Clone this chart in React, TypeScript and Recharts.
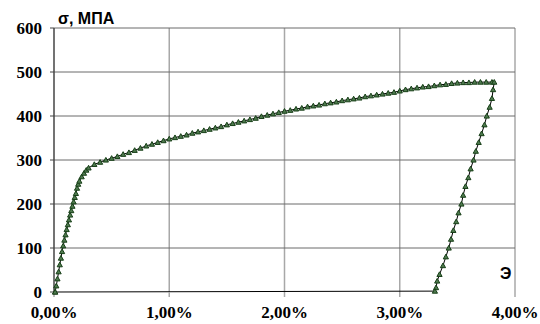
import { LineChart, Line, XAxis, YAxis, CartesianGrid } from 'recharts';

// деформация, %
const strain = [
    0.01, 0.02, 0.03, 0.04, 0.05, 0.06, 0.07, 0.08, 0.09, 0.10,
    0.11, 0.12, 0.13, 0.14, 0.15, 0.16, 0.17, 0.18, 0.19, 0.20,
    0.21, 0.22, 0.24, 0.26, 0.28, 0.30, 0.35, 0.40, 0.45, 0.50,
    0.55, 0.60, 0.65, 0.70, 0.75, 0.80, 0.85, 0.90, 0.95, 1.00,
    1.05, 1.10, 1.15, 1.20, 1.25, 1.30, 1.35, 1.40, 1.45, 1.50,
    1.55, 1.60, 1.65, 1.70, 1.75, 1.80, 1.85, 1.90, 1.95, 2.00,
    2.05, 2.10, 2.15, 2.20, 2.25, 2.30, 2.35, 2.40, 2.45, 2.50,
    2.55, 2.60, 2.65, 2.70, 2.75, 2.80, 2.85, 2.90, 2.95, 3.00,
    3.05, 3.10, 3.15, 3.20, 3.25, 3.30, 3.35, 3.40, 3.45, 3.50,
    3.55, 3.60, 3.65, 3.70, 3.75, 3.80, 3.82,
    3.81, 3.80, 3.78, 3.755, 3.735, 3.71, 3.685, 3.66, 3.64, 3.615,
    3.595, 3.57, 3.55, 3.535, 3.51, 3.49, 3.465, 3.445, 3.425, 3.40,
    3.375, 3.345, 3.325, 3.315, 3.305,
    0.01,
];

// напряжение, МПа
const stress = [
    0, 14, 30, 46, 62, 77, 92, 105, 118, 130,
    142, 153, 164, 175, 185, 195, 205, 215, 224, 236,
    245, 252, 262, 270, 277, 282, 290, 295, 300, 304,
    308, 313, 317, 322, 327, 332, 336, 340, 344, 348,
    351, 354, 357, 361, 364, 367, 370, 373, 376, 380,
    383, 386, 389, 392, 395, 399, 402, 405, 408, 411,
    413, 416, 418, 421, 423, 425, 428, 430, 432, 435,
    437, 439, 441, 444, 446, 448, 450, 452, 454, 457,
    460, 462, 464, 466, 467, 469, 471, 472, 474, 475,
    476, 476, 477, 477, 477, 477, 477,
    460, 440, 420, 400, 380, 360, 340, 320, 300, 280,
    260, 240, 220, 200, 180, 160, 140, 120, 100, 80,
    60, 40, 25, 10, 2,
    0,
];

const xTicks = [0, 1, 2, 3, 4];
const yTicks = [0, 100, 200, 300, 400, 500, 600];

const data = strain.map((x, i) => ({ x, y: stress[i] }));

const SERIF = "'Liberation Serif', 'DejaVu Serif', serif";
const labelStyle = { position: 'absolute' as const, fontFamily: 'Liberation Sans', fontWeight: 'bold', fontSize: 16, color: '#000', lineHeight: 1 };

function XTick(props: any) {
    const { x, y, payload } = props;
    return (
        <text x={x} y={y} dy="0.71em" textAnchor="middle" fill="#000"
            fontFamily={SERIF} fontWeight="bold" fontSize={17}>
            {payload.value.toFixed(2).replace('.', ',') + '%'}
        </text>
    );
}

function YTick(props: any) {
    const { x, y, payload } = props;
    return (
        <text x={x} y={y} dy="0.35em" textAnchor="end" fill="#000"
            fontFamily={SERIF} fontWeight="bold" fontSize={17}>
            {payload.value}
        </text>
    );
}

function TriangleDot(props: any) {
    const { cx, cy, index } = props;
    if (cx == null || cy == null) return <g key={`d-${index}`} />;
    const s = 2.6;
    return (
        <path
            key={`d-${index}`}
            d={`M${cx},${cy - s} L${cx + s},${cy + s * 0.8} L${cx - s},${cy + s * 0.8} Z`}
            fill="#4f7a4f"
            stroke="#173f17"
            strokeWidth={1}
        />
    );
}

export default function App() {
    return (
        <div style={{ position: 'absolute', left: 0, top: 0, width: 540, height: 324, background: '#fff', fontFamily: SERIF }}>
            <LineChart width={540} height={324} data={data} margin={{ top: 28, right: 25, bottom: 0, left: 0 }}
                style={{ fontFamily: SERIF }}>
                <CartesianGrid horizontal={false} vertical={true} verticalValues={[1, 2, 3, 4]} stroke="#a8a8a8" strokeWidth={1.5} />
                <CartesianGrid horizontal={true} vertical={false} horizontalValues={[100, 200, 300, 400, 500, 600]} stroke="#6a6a6a" />
                <XAxis
                    type="number"
                    dataKey="x"
                    domain={[0, 4]}
                    ticks={xTicks}
                    axisLine={false}
                    tickLine={{ stroke: '#a8a8a8', strokeWidth: 1.5 }}
                    tickSize={5}
                    tickMargin={9}
                    tick={<XTick />}
                    height={32}
                    interval={0}
                />
                <YAxis
                    type="number"
                    domain={[0, 600]}
                    ticks={yTicks}
                    axisLine={{ stroke: '#444', strokeWidth: 1.5 }}
                    tickLine={{ stroke: '#444' }}
                    tickSize={4}
                    tickMargin={8}
                    tick={<YTick />}
                    width={54}
                    interval={0}
                />
                <Line
                    type="linear"
                    dataKey="y"
                    stroke="#000"
                    strokeWidth={1}
                    dot={TriangleDot}
                    isAnimationActive={false}
                />
            </LineChart>
            <div style={{ ...labelStyle, left: 58, top: 11 }}>σ, МПА</div>
            <div style={{ ...labelStyle, left: 500, top: 266 }}>Э</div>
        </div>
    );
}
